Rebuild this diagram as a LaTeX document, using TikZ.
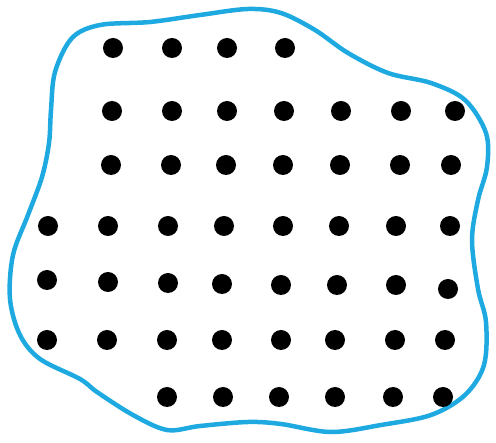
\documentclass[tikz,border=0pt]{standalone}
\definecolor{blobblue}{RGB}{30,170,225}
\tikzset{
  dot/.style={circle,fill=black,inner sep=0pt,minimum size=20pt},
  blob/.style={draw=blobblue,line width=4.5pt,line join=round}
}
\begin{document}
\begin{tikzpicture}[x=1pt,y=-1pt]
\useasboundingbox (0,0) rectangle (496,443);
\draw[blob] plot[smooth cycle,tension=0.55] coordinates {
 (100,25) (150,22) (200,15) (248,9) (281,13) (315,30) (348,53) (388,73)
 (431,83) (465,100) (486,133) (487,167) (478,200) (472,240) (478,289)
 (486,322) (484,365) (465,395) (431,415) (381,425) (331,432) (281,424)
 (248,422) (200,426) (167,430) (133,415) (97,392) (80,379) (40,359)
 (20,335) (10,299) (13,255) (28,215) (42,177) (49,143) (51,110) (55,72) (72,38)};
% row 1
\foreach \x [count=\i] in {113,172,227,285}
  \node[dot] (a\i) at (\x,48) {};
% row 2
\foreach \x [count=\i] in {112,172,227,284,341,401,455}
  \node[dot] (b\i) at (\x,111) {};
% row 3
\foreach \x [count=\i] in {111,171,226,283,340,400,451}
  \node[dot] (c\i) at (\x,165) {};
% row 4
\foreach \x [count=\i] in {48,108,168,224,283,339,396,450}
  \node[dot] (d\i) at (\x,226) {};
% row 5
\foreach \x/\y [count=\i] in {47/280,108/282,168/283,222/284,281/285,337/285,396/285,448/289}
  \node[dot] (e\i) at (\x,\y) {};
% row 6
\foreach \x [count=\i] in {47,107,167,222,281,335,395,445}
  \node[dot] (f\i) at (\x,340) {};
% row 7
\foreach \x [count=\i] in {167,223,279,335,393,443}
  \node[dot] (g\i) at (\x,397) {};
\end{tikzpicture}
\end{document}
